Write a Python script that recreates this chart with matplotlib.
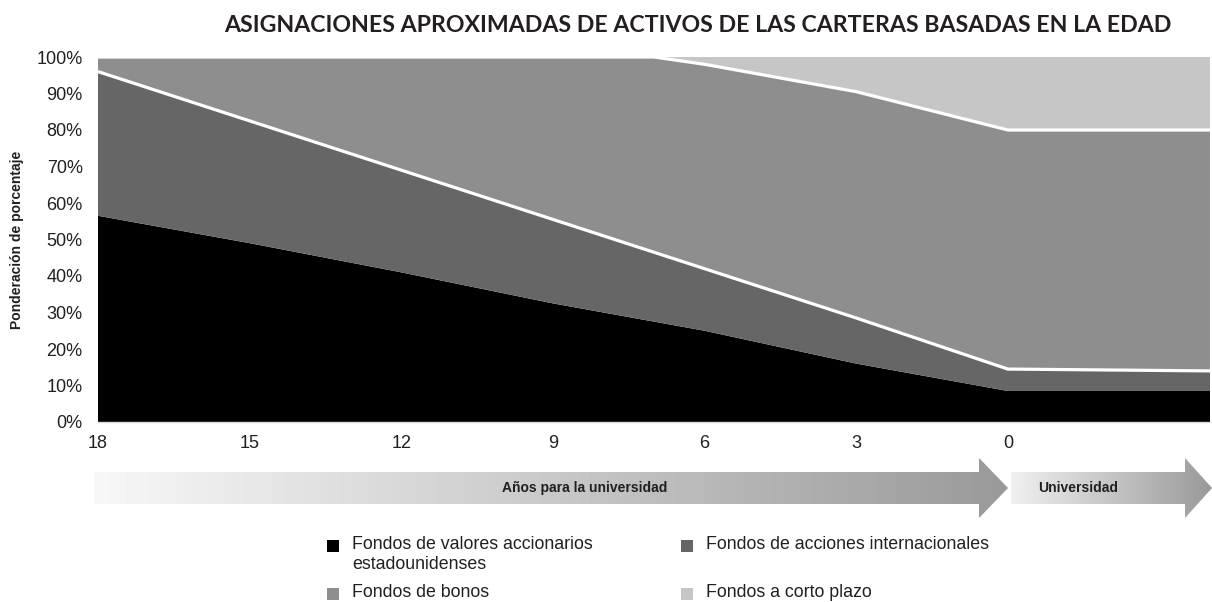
import numpy as np
import matplotlib.pyplot as plt
from matplotlib.patches import Polygon, Rectangle

# Años para la universidad (-4 = fin del periodo universitario)
years = [18, 15, 12, 9, 7, 6, 3, 0, -4]
us_stocks = [56.5, 49, 41, 32.5, 27.5, 25, 16, 8.5, 8.5]
intl_stocks = [39.5, 33.5, 28, 23, 19, 17, 12.5, 6, 5.5]
bonds = [4, 17.5, 31, 44.5, 53.5, 56, 62, 65.5, 66]
short_term = [0, 0, 0, 0, 0, 2, 9.5, 20, 20]

labels = ['Fondos de valores accionarios\nestadounidenses', 'Fondos de acciones internacionales',
          'Fondos de bonos', 'Fondos a corto plazo']
colors = ['#000000', '#666666', '#8e8e8e', '#c6c6c6']
xticks = [18, 15, 12, 9, 6, 3, 0]

text_col = '#231f20'
plt.rcParams['font.family'] = ['Liberation Sans', 'DejaVu Sans']

fig = plt.figure(figsize=(12.12, 6.02), dpi=100)
ax = fig.add_axes([98 / 1212, 1 - 422 / 602, 1112 / 1212, 365 / 602])

ax.stackplot(years, us_stocks, intl_stocks, bonds, short_term, colors=colors, linewidth=0)

# lineas blancas entre capas
intl_top = np.array(us_stocks) + np.array(intl_stocks)
bonds_top = intl_top + np.array(bonds)
ax.plot(years, intl_top, color='white', lw=2.3, solid_capstyle='butt')
ax.plot(years, bonds_top, color='white', lw=2.3, solid_capstyle='butt')

ax.set_xlim(18, -4)
ax.set_ylim(0, 100)
ax.set_xticks(xticks)
ax.set_xticklabels([str(t) for t in xticks])
ax.set_yticks(range(0, 101, 10))
ax.set_yticklabels([f'{v}%' for v in range(0, 101, 10)])
ax.tick_params(length=0, labelsize=13, colors=text_col)
ax.tick_params(axis='y', pad=11)
ax.tick_params(axis='x', pad=9)
for s in ['top', 'right', 'left']:
    ax.spines[s].set_visible(False)
ax.spines['bottom'].set_color('#d9d9d9')
ax.spines['bottom'].set_linewidth(1)
ax.set_ylabel('Ponderación de porcentaje', fontsize=10, fontweight='bold', color=text_col, labelpad=9)

fig.text(698 / 1212, 1 - 25 / 602, 'ASIGNACIONES APROXIMADAS DE ACTIVOS DE LAS CARTERAS BASADAS EN LA EDAD',
         ha='center', va='center', fontsize=16.7, fontweight='bold', family=['Lato', 'DejaVu Sans'],
         color=text_col)

# flechas con degradado
ov = fig.add_axes([0, 0, 1, 1], facecolor='none')
ov.set_xlim(0, 1212)
ov.set_ylim(602, 0)
ov.axis('off')

def grad_arrow(x0, x1, head_x, c0, c1, text, tx):
    pts = [(x0, 472), (head_x, 472), (head_x, 458), (x1, 488), (head_x, 518), (head_x, 504), (x0, 504)]
    poly = Polygon(pts, closed=True, facecolor='none', edgecolor='none')
    ov.add_patch(poly)
    g = np.linspace(c0, c1, 256).reshape(1, -1)
    im = ov.imshow(g, extent=[x0, x1, 518, 458], cmap='gray', vmin=0, vmax=1, aspect='auto')
    im.set_clip_path(poly)
    ov.text(tx, 488, text, ha='center', va='center', fontsize=10, fontweight='bold', color=text_col)

grad_arrow(94, 1008, 979, 0.97, 0.6, 'Años para la universidad', 585)
grad_arrow(1011, 1212, 1185, 0.94, 0.6, 'Universidad', 1078)
ov.set_xlim(0, 1212)
ov.set_ylim(602, 0)

# leyenda
leg_pos = [(333, 546), (687, 546), (333, 594), (687, 594)]
for (x, y), lab, c in zip(leg_pos, labels, colors):
    ov.add_patch(Rectangle((x - 6, y - 6), 12, 12, facecolor=c, edgecolor='none'))
    ov.text(x + 19, y - 10, lab, ha='left', va='top', fontsize=12.8, color=text_col, linespacing=1.2)

plt.savefig('out.png', dpi=100)
